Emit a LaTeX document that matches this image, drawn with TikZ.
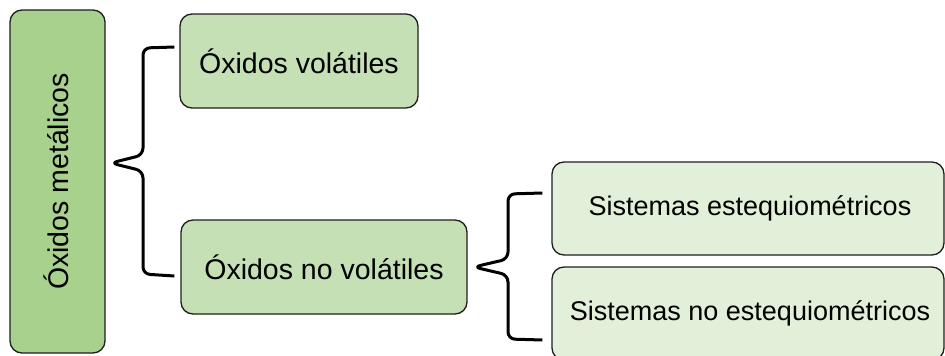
\documentclass[tikz,border=0pt]{standalone}
\usepackage{fontspec}
\setmainfont{Liberation Sans}
\usetikzlibrary{calc}
\definecolor{boxdark}{HTML}{A9D18E}
\definecolor{boxmid}{HTML}{C5E0B4}
\definecolor{boxlight}{HTML}{E2F0D9}
\definecolor{edge}{HTML}{1E1E1E}
\begin{document}
\begin{tikzpicture}[x=1pt,y=-1pt,
  card/.style={draw=edge, line width=1.3pt, rounded corners=12pt, inner sep=0pt,
    anchor=center, font=\fontsize{28.5}{32}\selectfont},
  subcard/.style={card, fill=boxlight, font=\fontsize{27}{30}\selectfont},
  bracket/.style={draw=black, line width=3pt, rounded corners=7pt, line join=round}]
\useasboundingbox (0,0) rectangle (945,356);

% category boxes
\node[card, fill=boxdark, minimum width=95pt, minimum height=343pt]
  (root) at (57.5,181.5) {};
\node[rotate=90, font=\fontsize{28.5}{32}\selectfont] (rootlabel) at (56,181.5) {Óxidos metálicos};
\node[card, fill=boxmid, minimum width=238pt, minimum height=94pt]
  (vol) at (299,61) {Óxidos volátiles};
\node[card, fill=boxmid, minimum width=286pt, minimum height=94pt]
  (novol) at (324,267) {Óxidos no volátiles};
\node[subcard, minimum width=392pt, minimum height=93pt]
  (est) at (748,208.5) {\hspace*{4pt}Sistemas estequiométricos};
\node[subcard, minimum width=392pt, minimum height=93pt]
  (noest) at (748,313.5) {\hspace*{4pt}Sistemas no estequiométricos};

% first bracket: root -> volatile / non-volatile
\coordinate (b1tip) at ($(root.east)+(5,-18.5)$);
\coordinate (b1top) at ($(vol.west)+(-5,-14)$);
\coordinate (b1bot) at ($(novol.west)+(-6,9)$);
\path[bracket] (b1top) -- (143,48) -- (143,155) -- (b1tip) -- (143,171) -- (143,274) -- (b1bot);

% second bracket: non-volatile -> stoichiometric / non-stoichiometric
\coordinate (b2tip) at ($(novol.east)+(6,0)$);
\coordinate (b2top) at ($(est.west)+(-9,-15.5)$);
\coordinate (b2bot) at ($(noest.west)+(-9,26.5)$);
\path[bracket] (b2top) -- (508,194) -- (508,259) -- (b2tip) -- (508,275) -- (508,339) -- (b2bot);
\end{tikzpicture}
\end{document}
